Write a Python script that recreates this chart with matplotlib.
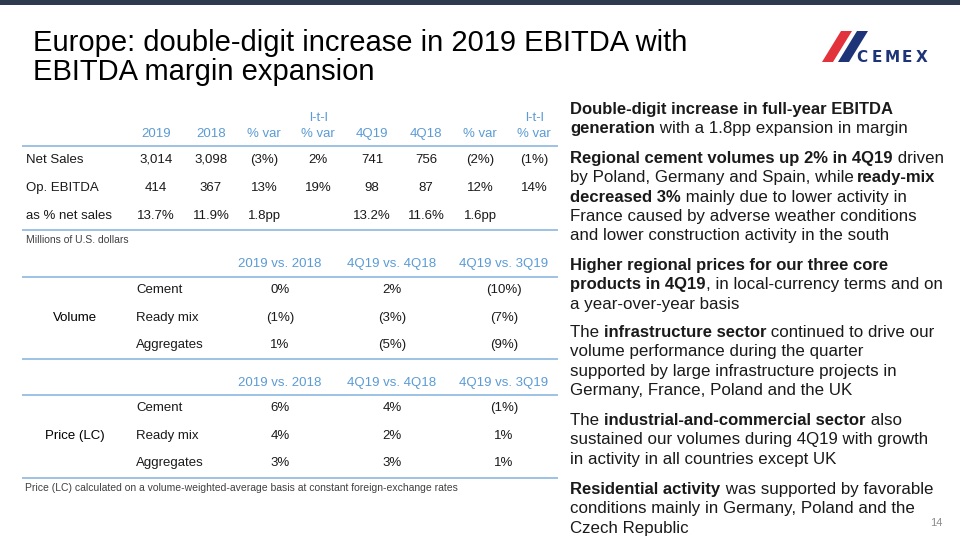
import matplotlib
matplotlib.use("Agg")
import matplotlib.pyplot as plt
from matplotlib.patches import Polygon, Rectangle
from matplotlib.font_manager import findfont, FontProperties
from matplotlib.ft2font import FT2Font

# ---------------- data ----------------
title_lines = ["Europe: double-digit increase in 2019 EBITDA with",
               "EBITDA margin expansion"]

t1_top = ["", "", "", "l-t-l", "", "", "", "l-t-l"]
t1_cols = ["2019", "2018", "% var", "% var", "4Q19", "4Q18", "% var", "% var"]
t1_rows = ["Net Sales", "Op. EBITDA", "as % net sales"]
t1_vals = [
    ["3,014", "3,098", "(3%)", "2%", "741", "756", "(2%)", "(1%)"],
    ["414", "367", "13%", "19%", "98", "87", "12%", "14%"],
    ["13.7%", "11.9%", "1.8pp", "", "13.2%", "11.6%", "1.6pp", ""],
]
t1_note = "Millions of U.S. dollars"

cmp_cols = ["2019 vs. 2018", "4Q19 vs. 4Q18", "4Q19 vs. 3Q19"]
products = ["Cement", "Ready mix", "Aggregates"]
volume_label = "Volume"
volume_vals = [["0%", "2%", "(10%)"],
               ["(1%)", "(3%)", "(7%)"],
               ["1%", "(5%)", "(9%)"]]
price_label = "Price (LC)"
price_vals = [["6%", "4%", "(1%)"],
              ["4%", "2%", "1%"],
              ["3%", "3%", "1%"]]
price_note = "Price (LC) calculated on a volume-weighted-average basis at constant foreign-exchange rates"

paragraphs = [
    [[("Double-digit increase in full-year EBITDA", True)],
     [("generation", True), (" with a 1.8pp expansion in margin", False)]],
    [[("Regional cement volumes up 2% in 4Q19", True), (" driven", False)],
     [("by Poland, Germany and Spain, while ", False), ("ready-mix", True)],
     [("decreased 3%", True), (" mainly due to lower activity in", False)],
     [("France caused by adverse weather conditions", False)],
     [("and lower construction activity in the south", False)]],
    [[("Higher regional prices for our three core", True)],
     [("products in 4Q19", True), (", in local-currency terms and on", False)],
     [("a year-over-year basis", False)]],
    [[("The ", False), ("infrastructure sector", True), (" continued to drive our", False)],
     [("volume performance during the quarter", False)],
     [("supported by large infrastructure projects in", False)],
     [("Germany, France, Poland and the UK", False)]],
    [[("The ", False), ("industrial-and-commercial sector", True), (" also", False)],
     [("sustained our volumes during 4Q19 with growth", False)],
     [("in activity in all countries except UK", False)]],
    [[("Residential activity", True), (" was supported by favorable", False)],
     [("conditions mainly in Germany, Poland and the", False)],
     [("Czech Republic", False)]],
]
page_number = "14"

# ---------------- style ----------------
FONT = "Liberation Sans"
HEAD_BLUE = "#5b9bd5"
LINE_BLUE = "#9cc2e5"
TXT = "#1a1a1a"
DPI = 100

fig = plt.figure(figsize=(9.6, 5.4), dpi=DPI)
ax = fig.add_axes([0, 0, 1, 1])
ax.set_xlim(0, 960)
ax.set_ylim(540, 0)
ax.axis("off")

# top bar
ax.add_patch(Rectangle((0, 0), 960, 5, color="#2e3b4f", lw=0))

# title
for i, line in enumerate(title_lines):
    ax.text(33, 51 + i * 29, line, fontsize=21, family=FONT, color="#000000",
            va="baseline", ha="left")

# logo
ax.add_patch(Polygon([(822, 62), (833, 62), (852, 31), (841, 31)], closed=True,
                     color="#e2323c", lw=0))
ax.add_patch(Polygon([(838, 62), (849, 62), (868, 31), (857, 31)], closed=True,
                     color="#1d3478", lw=0))
for k, ch in enumerate("CEMEX"):
    ax.text(862 + k * 15, 62, ch, fontsize=11, family="DejaVu Sans", weight="bold",
            color="#1d3478", ha="center", va="baseline")

def hline(y):
    ax.plot([22, 558], [y, y], color=LINE_BLUE, lw=1.4, solid_capstyle="butt")

# ---------------- table 1 ----------------
t1_x = [156, 211, 264, 318, 372, 426, 480, 534]
TS = 9.5
for j, x in enumerate(t1_x):
    if t1_top[j]:
        ax.text(x, 121, t1_top[j], fontsize=TS, family=FONT, color=HEAD_BLUE,
                ha="center", va="baseline")
    ax.text(x, 137, t1_cols[j], fontsize=TS, family=FONT, color=HEAD_BLUE,
            ha="center", va="baseline")
hline(146)
for i, r in enumerate(t1_rows):
    y = 163 + i * 28
    ax.text(26, y, r, fontsize=TS, family=FONT, color=TXT, ha="left", va="baseline")
    for j, x in enumerate(t1_x):
        ax.text(x, y, t1_vals[i][j], fontsize=TS, family=FONT, color=TXT,
                ha="center", va="baseline")
hline(230)
ax.text(26, 243, t1_note, fontsize=7.5, family=FONT, color="#404040",
        ha="left", va="baseline")

# ---------------- tables 2 and 3 ----------------
cmp_x = [280, 392, 504]

def cmp_table(y_head, y_top_line, y_first, label, vals, y_bottom):
    for j, x in enumerate(cmp_x):
        ax.text(x, y_head, cmp_cols[j], fontsize=TS, family=FONT, color=HEAD_BLUE,
                ha="center", va="baseline")
    hline(y_top_line)
    for i, p in enumerate(products):
        y = y_first + i * 27.7
        ax.text(136, y, p, fontsize=TS, family=FONT, color=TXT, ha="left", va="baseline")
        for j, x in enumerate(cmp_x):
            ax.text(x, y, vals[i][j], fontsize=TS, family=FONT, color=TXT,
                    ha="center", va="baseline")
    ax.text(75, y_first + 27.7, label, fontsize=TS, family=FONT, color="#000000",
            ha="center", va="baseline")
    hline(y_bottom)

cmp_table(267, 276.5, 293, volume_label, volume_vals, 359)
cmp_table(386, 394.5, 411, price_label, price_vals, 477.5)
ax.text(25, 491, price_note, fontsize=7.5, family=FONT, color="#404040",
        ha="left", va="baseline")

# ---------------- right column text ----------------
RS = {False: 12.2, True: 11.95}
_fonts = {}
for b in (False, True):
    path = findfont(FontProperties(family=FONT, weight="bold" if b else "normal"))
    f = FT2Font(path)
    f.set_size(RS[b], DPI)
    _fonts[b] = f

def advance(text, bold):
    f = _fonts[bold]
    total = 0.0
    for c in text:
        g = f.load_char(ord(c))
        total += g.linearHoriAdvance / 65536.0
    return total

def draw_runs(x, y, runs):
    cx = x
    for text, bold in runs:
        ax.text(cx, y, text, fontsize=RS[bold], family=FONT,
                weight="bold" if bold else "normal", color=TXT,
                ha="left", va="baseline")
        cx += advance(text, bold)

para_y = [109, 158, 265, 332, 420, 489]
LS = 19.3
for p, y0 in zip(paragraphs, para_y):
    for k, line in enumerate(p):
        draw_runs(570, y0 + k * LS + 5, line)

ax.text(942, 526, page_number, fontsize=8, family=FONT, color="#8c8c8c",
        ha="right", va="baseline")

fig.savefig("out.png", dpi=DPI)
